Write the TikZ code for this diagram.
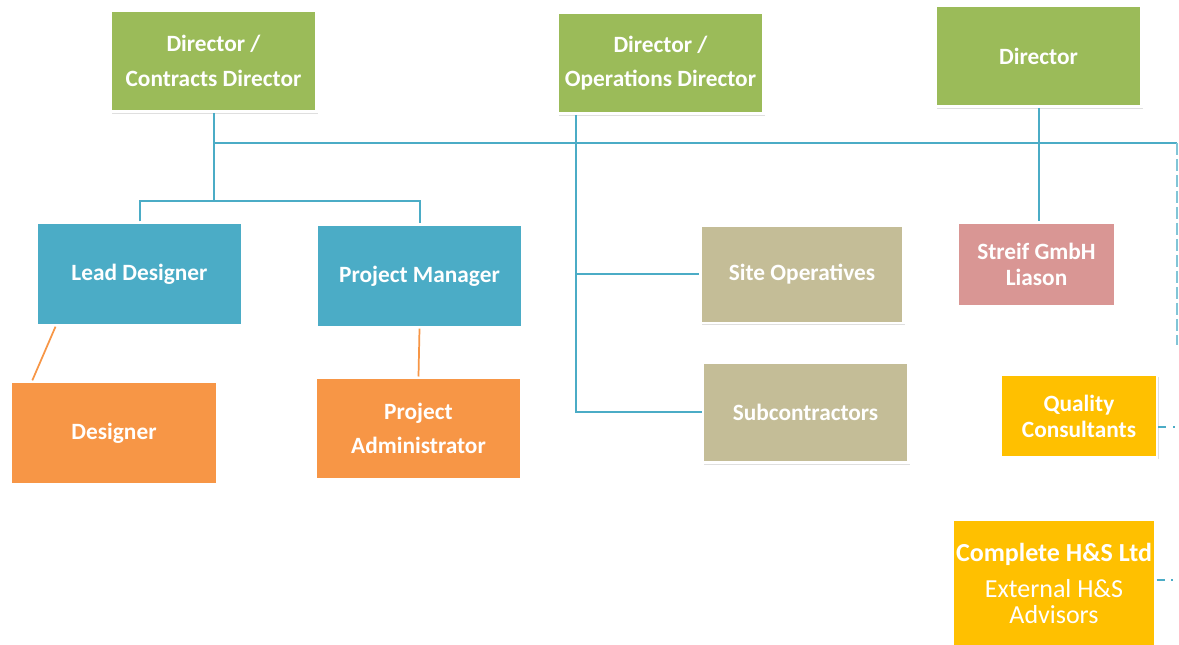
\documentclass[tikz,border=0pt]{standalone}
\usepackage{fontspec}
\setmainfont{Carlito}
\usetikzlibrary{calc,shadows}
\definecolor{dirgreen}{HTML}{9BBB59}
\definecolor{leadblue}{HTML}{4BACC6}
\definecolor{sitetan}{HTML}{C4BD97}
\definecolor{liasonpink}{HTML}{D99694}
\definecolor{staffor}{HTML}{F79646}
\definecolor{extgold}{HTML}{FFC000}
\definecolor{linkblue}{HTML}{4BACC6}
\tikzset{
	orgbox/.style={draw=white, line width=2pt, text=white, align=center,
		font=\fontsize{17.5}{19.5}\selectfont\bfseries, inner sep=2pt,
		drop shadow={opacity=0.25, shadow xshift=1.2pt, shadow yshift=-1.5pt}},
	link/.style={linkblue, line width=1.5pt},
	sublink/.style={staffor, line width=1.3pt}
}

\begin{document}
\begin{tikzpicture}[x=0.75pt,y=-0.75pt]
	\useasboundingbox[fill=white] (0,0) rectangle (1179,645);

	\node[orgbox, fill=dirgreen, minimum width=154pt, minimum height=76pt] (dirA) at (213.5,61) {Director /\\[6.5pt]Contracts Director};
	\node[orgbox, fill=dirgreen, minimum width=154pt, minimum height=76pt] (dirB) at (660.5,63) {Director /\\[6.5pt]Operations Director};
	\node[orgbox, fill=dirgreen, minimum width=154pt, minimum height=76pt] (dirC) at (1038.5,56) {Director};
	\node[orgbox, fill=leadblue, minimum width=154pt, minimum height=77pt] (lead) at (139.5,274) {Lead Designer};
	\node[orgbox, fill=leadblue, minimum width=154pt, minimum height=77pt] (pm) at (419.5,276) {Project Manager};
	\node[orgbox, fill=sitetan, minimum width=152pt, minimum height=73pt] (site) at (802,274.5) {Site Operatives};
	\node[orgbox, fill=sitetan, minimum width=154pt, minimum height=75pt] (sub) at (805.5,412.5) {Subcontractors};
	\node[orgbox, fill=liasonpink, minimum width=118pt, minimum height=63pt] (streif) at (1036.5,264.5) {Streif GmbH\\Liason};
	\node[orgbox, fill=staffor, minimum width=155pt, minimum height=77pt] (designer) at (114,433) {Designer};
	\node[orgbox, fill=staffor, minimum width=154pt, minimum height=76pt] (padmin) at (418.5,428.5) {Project\\[6.5pt]Administrator};
	\node[orgbox, fill=extgold, minimum width=117pt, minimum height=62pt] (quality) at (1079,416) {Quality\\Consultants};
	\node[orgbox, fill=extgold, minimum width=152pt, minimum height=96pt, anchor=north] (hs) at (1054,518)
		{\fontsize{19.5}{22}\selectfont Complete H\&S Ltd\\[7pt]
		 \fontsize{19.5}{22}\selectfont\mdseries External H\&S\\\fontsize{19.5}{22}\selectfont\mdseries Advisors};

	\coordinate (rtop) at (1177,143);
	\coordinate (rbot) at (1177,345);
	\coordinate (jA) at ($(dirA.south)+(0,88)$);
	\coordinate (jB) at ($(dirB.south west)+(19,0)$);
	\coordinate (qend) at (1179,427);
	\coordinate (hsend) at (1179,580);

	\draw[link] (dirA.south) -- (jA);
	\draw[link] (lead.north) |- (jA) -| (pm.north);
	\draw[link] (dirA.south |- rtop) -- (rtop);
	\draw[link, line width=1pt, linkblue!70, dash pattern=on 9pt off 3pt] (rtop) -- (rbot);
	\draw[link] (jB) |- (sub.west);
	\draw[link] (jB |- site.west) -- (site.west);
	\draw[link] (dirC.south) -- (dirC.south |- streif.north);
	\draw[sublink] ($(lead.south west)+(20,0)$) -- ($(designer.north west)+(23,0)$);
	\draw[sublink] (pm.south) -- (padmin.north);
	\draw[link, dash pattern=on 6pt off 5pt on 1.5pt off 8pt] (quality.east |- qend) -- (qend);
	\draw[link, dash pattern=on 6pt off 5pt on 1.5pt off 8pt] (hs.east |- hsend) -- (hsend);
\end{tikzpicture}
\end{document}
